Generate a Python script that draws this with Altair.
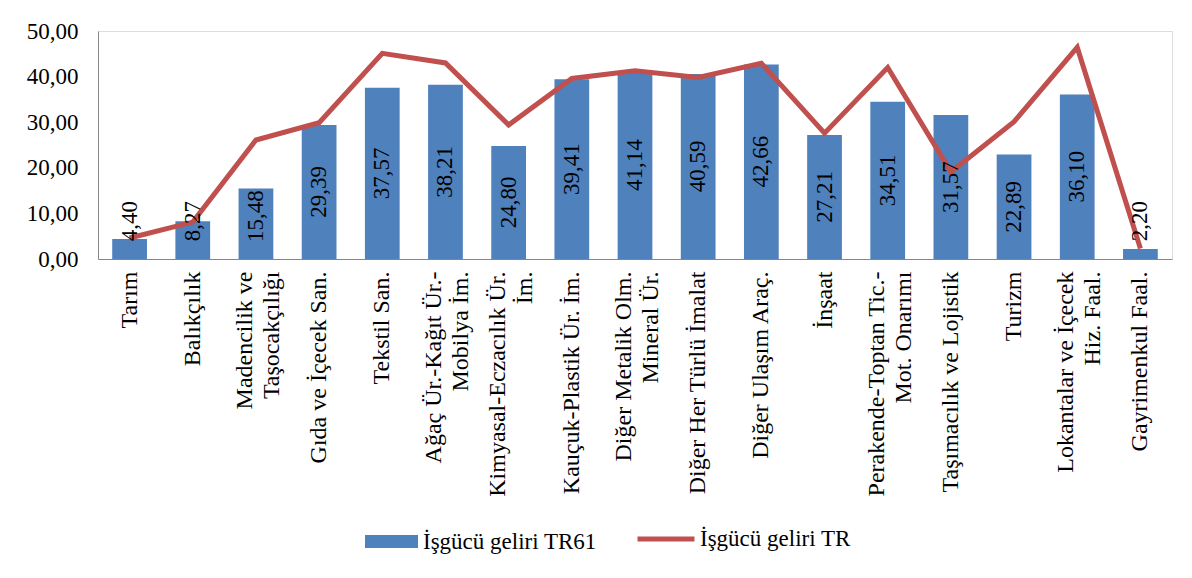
import altair as alt
import pandas as pd

categories = ["Tarım", "Balıkçılık", "Madencilik ve\nTaşocakçılığı", "Gıda ve İçecek San.",
              "Tekstil San.", "Ağaç Ür.-Kağıt Ür.-\nMobilya İm.", "Kimyasal-Eczacılık Ür.\nİm.",
              "Kauçuk-Plastik Ür. İm.", "Diğer Metalik Olm.\nMineral Ür.", "Diğer Her Türlü İmalat",
              "Diğer Ulaşım Araç.", "İnşaat", "Perakende-Toptan Tic.-\nMot. Onarımı",
              "Taşımacılık ve Lojistik", "Turizm", "Lokantalar ve İçecek\nHiz. Faal.",
              "Gayrimenkul Faal."]
tr61 = [4.40, 8.27, 15.48, 29.39, 37.57, 38.21, 24.80, 39.41, 41.14, 40.59, 42.66,
        27.21, 34.51, 31.57, 22.89, 36.10, 2.20]
tr = [4.6, 8.1, 26.1, 29.9, 45.1, 43.0, 29.4, 39.6, 41.3, 39.8, 42.9,
      27.6, 42.0, 19.1, 30.1, 46.4, 2.3]

df = pd.DataFrame({"cat": categories, "tr61": tr61, "tr": tr,
                   "s1": "İşgücü geliri TR61", "s2": "İşgücü geliri TR"})

FONT = "Liberation Serif, Times New Roman, serif"
FS = 23
FSX = 24

x = alt.X("cat:N", sort=categories, title=None,
          scale=alt.Scale(paddingInner=0.45, paddingOuter=0.225),
          axis=alt.Axis(labelAngle=-90, labelAlign="right", labelBaseline="middle",
                        labelExpr="split(datum.label, '\\n')", labelLimit=400,
                        labelPadding=12, ticks=False, domainColor="#868686",
                        labelFontSize=FSX, labelFont=FONT, labelColor="black",
                        labelLineHeight=27,
                        labelOffset={"condition": {"test": "indexof(datum.value, '\\n') >= 0",
                                                   "value": -11}, "value": 0}))
y_axis = alt.Axis(values=[0, 10, 20, 30, 40, 50], grid=False, ticks=False,
                  labelExpr="replace(format(datum.value, '.2f'), '.', ',')",
                  labelPadding=20, domainColor="#868686", labelFontSize=FS,
                  labelFont=FONT, labelColor="black")

base = alt.Chart(df)

bars = base.mark_bar(color="#4F81BD").encode(
    x=x,
    y=alt.Y("tr61:Q", title=None, scale=alt.Scale(domain=[0, 50]), axis=y_axis),
    color=alt.Color("s1:N", scale=alt.Scale(range=["#4F81BD"]), title=None,
                    legend=alt.Legend(orient="none", legendX=267, legendY=484,
                                      symbolType="M-1,-0.245H1V0.245H-1Z", symbolSize=2809,
                                      symbolStrokeWidth=0, labelFontSize=FS, labelFont=FONT,
                                      labelColor="black", labelOffset=5, labelLimit=400)),
)

line = base.mark_line(strokeWidth=5).encode(
    x=x,
    y=alt.Y("tr:Q"),
    stroke=alt.Stroke("s2:N", scale=alt.Scale(range=["#C0504D"]), title=None,
                      legend=alt.Legend(orient="none", legendX=537, legendY=477,
                                        symbolType="stroke", symbolSize=3249,
                                        symbolStrokeWidth=5, labelFontSize=FS, labelFont=FONT,
                                        labelColor="black", labelOffset=3, labelLimit=400)),
)

labels = base.transform_calculate(
    lbl="replace(format(datum.tr61, '.2f'), '.', ',')",
    pos="max(datum.tr61 / 2, datum.tr61 < 10 ? 8.3 : 9.4)",
).mark_text(angle=270, align="center", baseline="middle", fontSize=FS, font=FONT,
            color="black").encode(
    x=x,
    y=alt.Y("pos:Q"),
    text="lbl:N",
)

chart = alt.layer(bars, line, labels).resolve_scale(color="independent").properties(
    width=1074, height=228,
    autosize=alt.AutoSizeParams(type="none"),
    padding={"left": 90, "top": 23, "right": 12, "bottom": 311},
).configure_view(stroke=None).configure(background="white")

chart.save("out.html", embed_options={"renderer": "svg", "actions": False})
